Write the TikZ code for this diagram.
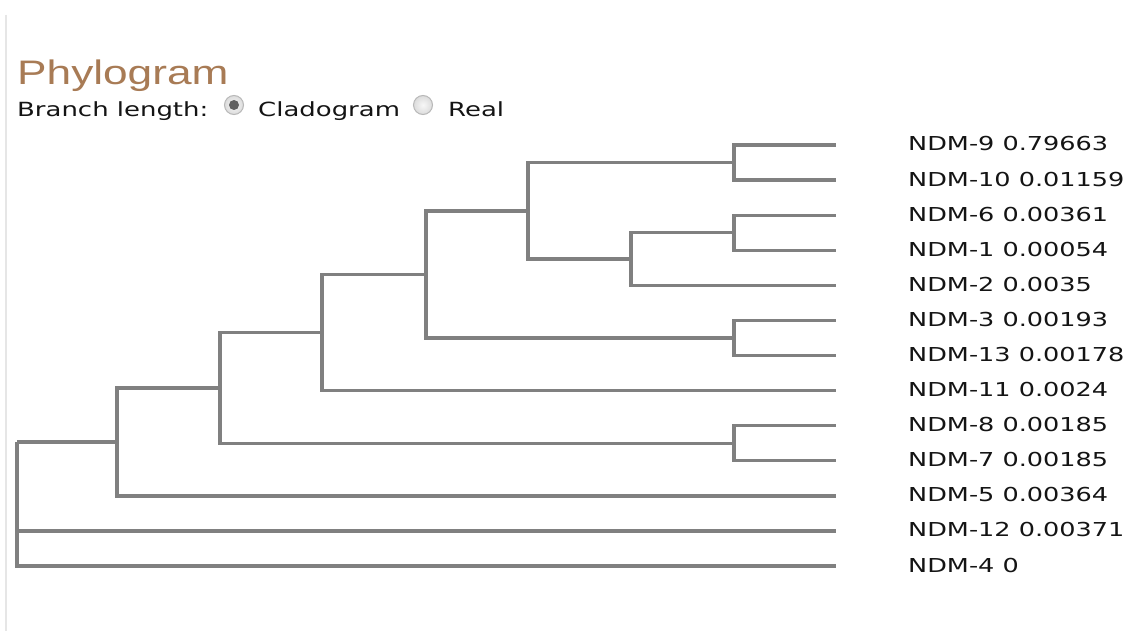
\documentclass[tikz,border=0pt]{standalone}
\usepackage{fontspec}
\newfontfamily\labfont[FakeStretch=1.33]{DejaVu Sans}
\newfontfamily\titlefont[FakeStretch=1.3]{Liberation Sans}
\definecolor{branch}{HTML}{808080}
\definecolor{titlecol}{HTML}{A87B55}
\definecolor{labcol}{HTML}{141414}
\definecolor{borderline}{HTML}{E6E6E6}
\begin{document}
\begin{tikzpicture}[x=1pt,y=-1pt,
  edge/.style={draw=branch,line width=3.4pt,line join=miter},
  leaflabel/.style={anchor=base west,inner sep=0pt,font=\labfont\fontsize{19.2}{22}\selectfont,text=labcol},
  uitext/.style={anchor=base west,inner sep=0pt,font=\labfont\fontsize{19.5}{22}\selectfont,text=labcol},
  radio/.style={circle,minimum size=19pt,inner sep=0pt,draw=black!28,line width=1pt,inner color=black!3,outer color=black!14},
  titletext/.style={anchor=base west,inner sep=0pt,font=\titlefont\fontsize{34}{40}\selectfont,text=titlecol}]
\useasboundingbox[fill=white] (0,0) rectangle (1131,631);
% left border
\draw[borderline,line width=2pt] (6,15) -- (6,631);
% header
\node[titletext] (title) at (17,85) {Phylogram};
\node[uitext] (bl) at (17,117) {Branch length:};
\node[radio] (r1) at (234,105) {};
\fill[black!62] (r1.center) circle (5pt);
\node[uitext] (clad) at (258,117) {Cladogram};
\node[radio] (r2) at (423,105) {};
\node[uitext] (real) at (448,117) {Real};
% leaves
\foreach \n/\y/\t in {l9/145/{NDM-9 0.79663},l10/180.1/{NDM-10 0.01159},l6/215.2/{NDM-6 0.00361},l1/250.2/{NDM-1 0.00054},l2/285.3/{NDM-2 0.0035},l3/320.4/{NDM-3 0.00193},l13/355.5/{NDM-13 0.00178},l11/390.6/{NDM-11 0.0024},l8/425.6/{NDM-8 0.00185},l7/460.7/{NDM-7 0.00185},l5/495.8/{NDM-5 0.00364},l12/530.9/{NDM-12 0.00371},l4/566/{NDM-4 0}}{
  \coordinate (\n) at (836,\y);
  \node[leaflabel] (t\n) at (908,\y+6) {\t};
}
% internal nodes
\coordinate (A) at (734,162.5);
\coordinate (B) at (734,232.7);
\coordinate (C) at (631,259);
\coordinate (D) at (528,210.8);
\coordinate (E) at (734,338);
\coordinate (F) at (426,274.4);
\coordinate (G) at (322,332.5);
\coordinate (H) at (734,443.2);
\coordinate (I) at (220,387.8);
\coordinate (J) at (117,441.8);
\coordinate (R) at (17,441.8);
% edges
\draw[edge] (A) |- (l9); \draw[edge] (A) |- (l10);
\draw[edge] (B) |- (l6); \draw[edge] (B) |- (l1);
\draw[edge] (C) |- (B); \draw[edge] (C) |- (l2);
\draw[edge] (D) |- (A); \draw[edge] (D) |- (C);
\draw[edge] (E) |- (l3); \draw[edge] (E) |- (l13);
\draw[edge] (F) |- (D); \draw[edge] (F) |- (E);
\draw[edge] (G) |- (F); \draw[edge] (G) |- (l11);
\draw[edge] (H) |- (l8); \draw[edge] (H) |- (l7);
\draw[edge] (I) |- (G); \draw[edge] (I) |- (H);
\draw[edge] (J) |- (I); \draw[edge] (J) |- (l5);
\draw[edge] (R) -- (J); \draw[edge] (R) |- (l12); \draw[edge] (R) |- (l4);
\end{tikzpicture}
\end{document}
